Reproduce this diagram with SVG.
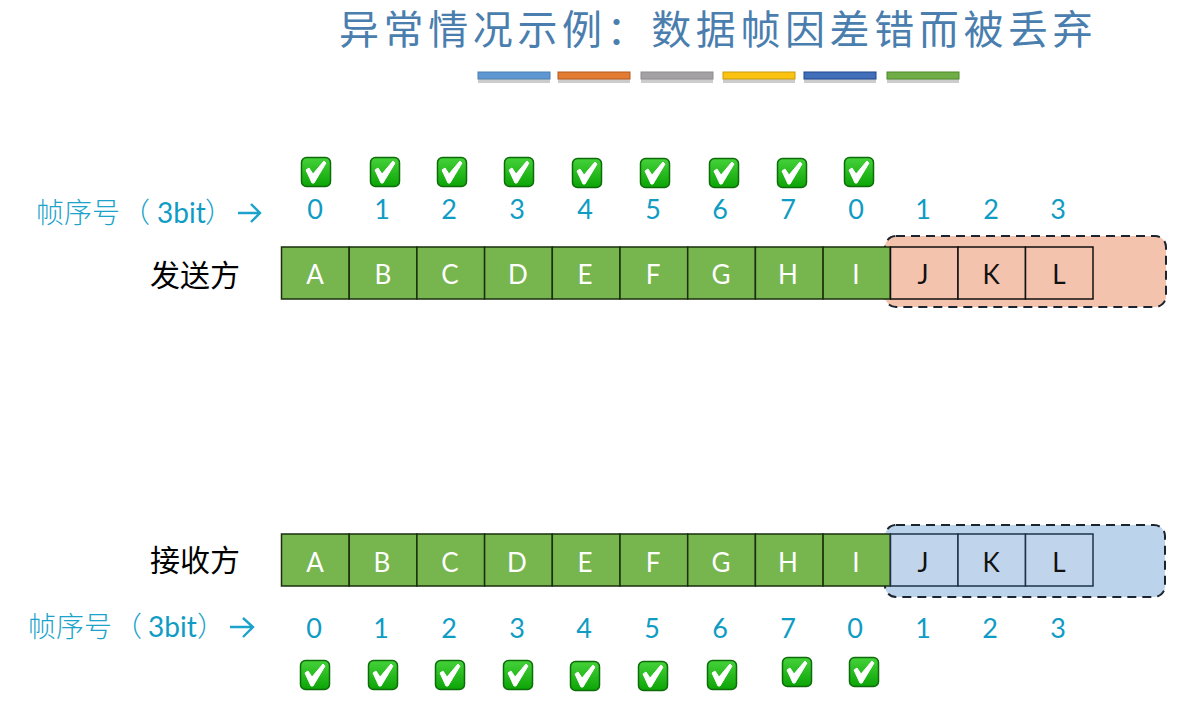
<svg xmlns="http://www.w3.org/2000/svg" width="1197" height="704" viewBox="0 0 1197 704">
<style>
text{font-family:"Lato","Noto Sans CJK SC",sans-serif;text-anchor:middle}
.title{font-family:"Noto Sans CJK SC",sans-serif;font-size:40px;fill:#4a7eae;letter-spacing:4.6px;text-anchor:start}
.side{font-family:"Noto Sans CJK SC",sans-serif;font-size:30px;fill:#000}
.seq{font-family:"Noto Sans CJK SC",sans-serif;font-size:28px;fill:#1ba3cb;font-weight:300;text-anchor:start}
.bit{font-family:"Lato",sans-serif;fill:#0f9cc4;font-weight:400}
.num{font-size:27px;fill:#0f9cc4}
.cg{fill:#77b54f;stroke:#1a2f0d;stroke-width:1.5}
.cp{fill:#f4c3ae;stroke:#111;stroke-width:1.5}
.cb{fill:#c0d5ec;stroke:#1d3347;stroke-width:1.5}
.lw{font-size:26px;fill:#fff}
.lk{font-size:26px;fill:#111}
.dash{stroke:#1c2430;stroke-width:2;stroke-dasharray:9 6}
.bar{stroke-width:1}
.sh{fill:#8d8d8d;opacity:.45}
.ar{fill:none;stroke:#1ba3cb;stroke-width:2.4}
</style>
<defs>
<linearGradient id="chkFill" x1="0" y1="0" x2="0" y2="1"><stop offset="0" stop-color="#45d23a"/><stop offset="1" stop-color="#0ca406"/></linearGradient>
<g id="chk">
<rect x="-14.5" y="-14.5" width="29" height="29" rx="5" fill="url(#chkFill)" stroke="#0d6b0a" stroke-width="1.5"/>
<path d="M-10 -2L-7 -4L-3 2L8 -11L10 -9L-2 11L-4 11Z" fill="#fff" stroke="#fff" stroke-width="1" stroke-linejoin="round"/>
</g>
</defs>
<rect width="1197" height="704" fill="#fff"/>
<text class="title" x="339" y="44">异常情况示例&#xFF1A;数据帧因差错而被丢弃</text>
<g id="title-bars">
<rect class="sh" x="478" y="75" width="72" height="8"/><rect class="bar" x="478" y="72" width="72" height="7" fill="#5f97d2" stroke="#4a80ad"/>
<rect class="sh" x="558" y="75" width="72" height="8"/><rect class="bar" x="558" y="72" width="72" height="7" fill="#e37c33" stroke="#b55a1d"/>
<rect class="sh" x="641" y="75" width="72" height="8"/><rect class="bar" x="641" y="72" width="72" height="7" fill="#a3a1a3" stroke="#8e8c8e"/>
<rect class="sh" x="723" y="75" width="72" height="8"/><rect class="bar" x="723" y="72" width="72" height="7" fill="#fbc20f" stroke="#c99b10"/>
<rect class="sh" x="804" y="75" width="72" height="8"/><rect class="bar" x="804" y="72" width="72" height="7" fill="#416fb9" stroke="#1f4690"/>
<rect class="sh" x="887" y="75" width="72" height="8"/><rect class="bar" x="887" y="72" width="72" height="7" fill="#70ad47" stroke="#4a8a28"/>
</g>
<g id="connectors"></g>
<g id="sender-seq-label">
<text class="seq" y="223"><tspan x="36">帧序号</tspan><tspan x="122">&#xFF08;</tspan><tspan class="bit" x="157">3bit</tspan><tspan x="205">&#xFF09;</tspan></text>
<path class="ar" d="M238 213H259M251 204L260 213L251 222"/>
</g>
<g id="receiver-seq-label">
<text class="seq" y="637"><tspan x="28">帧序号</tspan><tspan x="114">&#xFF08;</tspan><tspan class="bit" x="148">3bit</tspan><tspan x="197">&#xFF09;</tspan></text>
<path class="ar" d="M230 627H252M243 618L253 627L243 637"/>
</g>
<g id="sender-label"><text class="side" x="195" y="286">发送方</text></g>
<g id="receiver-label"><text class="side" x="195" y="571">接收方</text></g>
<g id="sender-window"><rect class="dash" x="885" y="236" width="281" height="71" rx="11" fill="#f4c3ae"/></g>
<g id="receiver-window"><rect class="dash" x="885" y="525" width="280" height="72" rx="11" fill="#bcd3ec"/></g>
<g id="sender-frames">
<rect class="cg" x="281.5" y="247" width="67.7" height="52"/><text class="lw" x="315" y="284">A</text>
<rect class="cg" x="349.2" y="247" width="67.7" height="52"/><text class="lw" x="383" y="284">B</text>
<rect class="cg" x="416.9" y="247" width="67.7" height="52"/><text class="lw" x="450" y="284">C</text>
<rect class="cg" x="484.6" y="247" width="67.7" height="52"/><text class="lw" x="518" y="284">D</text>
<rect class="cg" x="552.3" y="247" width="67.7" height="52"/><text class="lw" x="585" y="284">E</text>
<rect class="cg" x="620" y="247" width="67.7" height="52"/><text class="lw" x="653" y="284">F</text>
<rect class="cg" x="687.7" y="247" width="67.7" height="52"/><text class="lw" x="721" y="284">G</text>
<rect class="cg" x="755.4" y="247" width="67.7" height="52"/><text class="lw" x="788" y="284">H</text>
<rect class="cg" x="823.1" y="247" width="67.2" height="52"/><text class="lw" x="856" y="284">I</text>
<rect class="cp" x="890.5" y="247" width="67.5" height="52"/><text class="lk" x="923" y="284">J</text>
<rect class="cp" x="958" y="247" width="67.5" height="52"/><text class="lk" x="991" y="284">K</text>
<rect class="cp" x="1025.5" y="247" width="67.5" height="52"/><text class="lk" x="1059" y="284">L</text>
</g>
<g id="receiver-frames">
<rect class="cg" x="281.5" y="534" width="67.7" height="52"/><text class="lw" x="315" y="572">A</text>
<rect class="cg" x="349.2" y="534" width="67.7" height="52"/><text class="lw" x="382" y="572">B</text>
<rect class="cg" x="416.9" y="534" width="67.7" height="52"/><text class="lw" x="450" y="572">C</text>
<rect class="cg" x="484.6" y="534" width="67.7" height="52"/><text class="lw" x="517" y="572">D</text>
<rect class="cg" x="552.3" y="534" width="67.7" height="52"/><text class="lw" x="585" y="572">E</text>
<rect class="cg" x="620" y="534" width="67.7" height="52"/><text class="lw" x="653" y="572">F</text>
<rect class="cg" x="687.7" y="534" width="67.7" height="52"/><text class="lw" x="721" y="572">G</text>
<rect class="cg" x="755.4" y="534" width="67.7" height="52"/><text class="lw" x="788" y="572">H</text>
<rect class="cg" x="823.1" y="534" width="67.2" height="52"/><text class="lw" x="856" y="572">I</text>
<rect class="cb" x="890.5" y="534" width="67.5" height="52"/><text class="lk" x="923" y="572">J</text>
<rect class="cb" x="958" y="534" width="67.5" height="52"/><text class="lk" x="991" y="572">K</text>
<rect class="cb" x="1025.5" y="534" width="67.5" height="52"/><text class="lk" x="1059" y="572">L</text>
</g>
<g id="sender-numbers">
<text class="num" x="315" y="219">0</text><text class="num" x="382" y="219">1</text><text class="num" x="449" y="219">2</text><text class="num" x="517" y="219">3</text><text class="num" x="585" y="219">4</text><text class="num" x="653" y="219">5</text><text class="num" x="720" y="219">6</text><text class="num" x="788" y="219">7</text><text class="num" x="856" y="219">0</text><text class="num" x="923" y="219">1</text><text class="num" x="991" y="219">2</text><text class="num" x="1058" y="219">3</text>
</g>
<g id="receiver-numbers">
<text class="num" x="314" y="638">0</text><text class="num" x="381" y="638">1</text><text class="num" x="449" y="638">2</text><text class="num" x="517" y="638">3</text><text class="num" x="584" y="638">4</text><text class="num" x="652" y="638">5</text><text class="num" x="720" y="638">6</text><text class="num" x="788" y="638">7</text><text class="num" x="855" y="638">0</text><text class="num" x="923" y="638">1</text><text class="num" x="990" y="638">2</text><text class="num" x="1058" y="638">3</text>
</g>
<g id="sender-checks">
<use href="#chk" x="316" y="172"/><use href="#chk" x="385" y="172"/><use href="#chk" x="452" y="172"/><use href="#chk" x="519" y="172"/><use href="#chk" x="587" y="173"/><use href="#chk" x="655" y="173"/><use href="#chk" x="724" y="173"/><use href="#chk" x="792" y="173"/><use href="#chk" x="859" y="172"/>
</g>
<g id="receiver-checks">
<use href="#chk" x="315" y="675"/><use href="#chk" x="383" y="675"/><use href="#chk" x="450" y="675"/><use href="#chk" x="518" y="675"/><use href="#chk" x="585" y="676"/><use href="#chk" x="653" y="676"/><use href="#chk" x="722" y="675"/><use href="#chk" x="797" y="672"/><use href="#chk" x="864" y="672"/>
</g>
</svg>
